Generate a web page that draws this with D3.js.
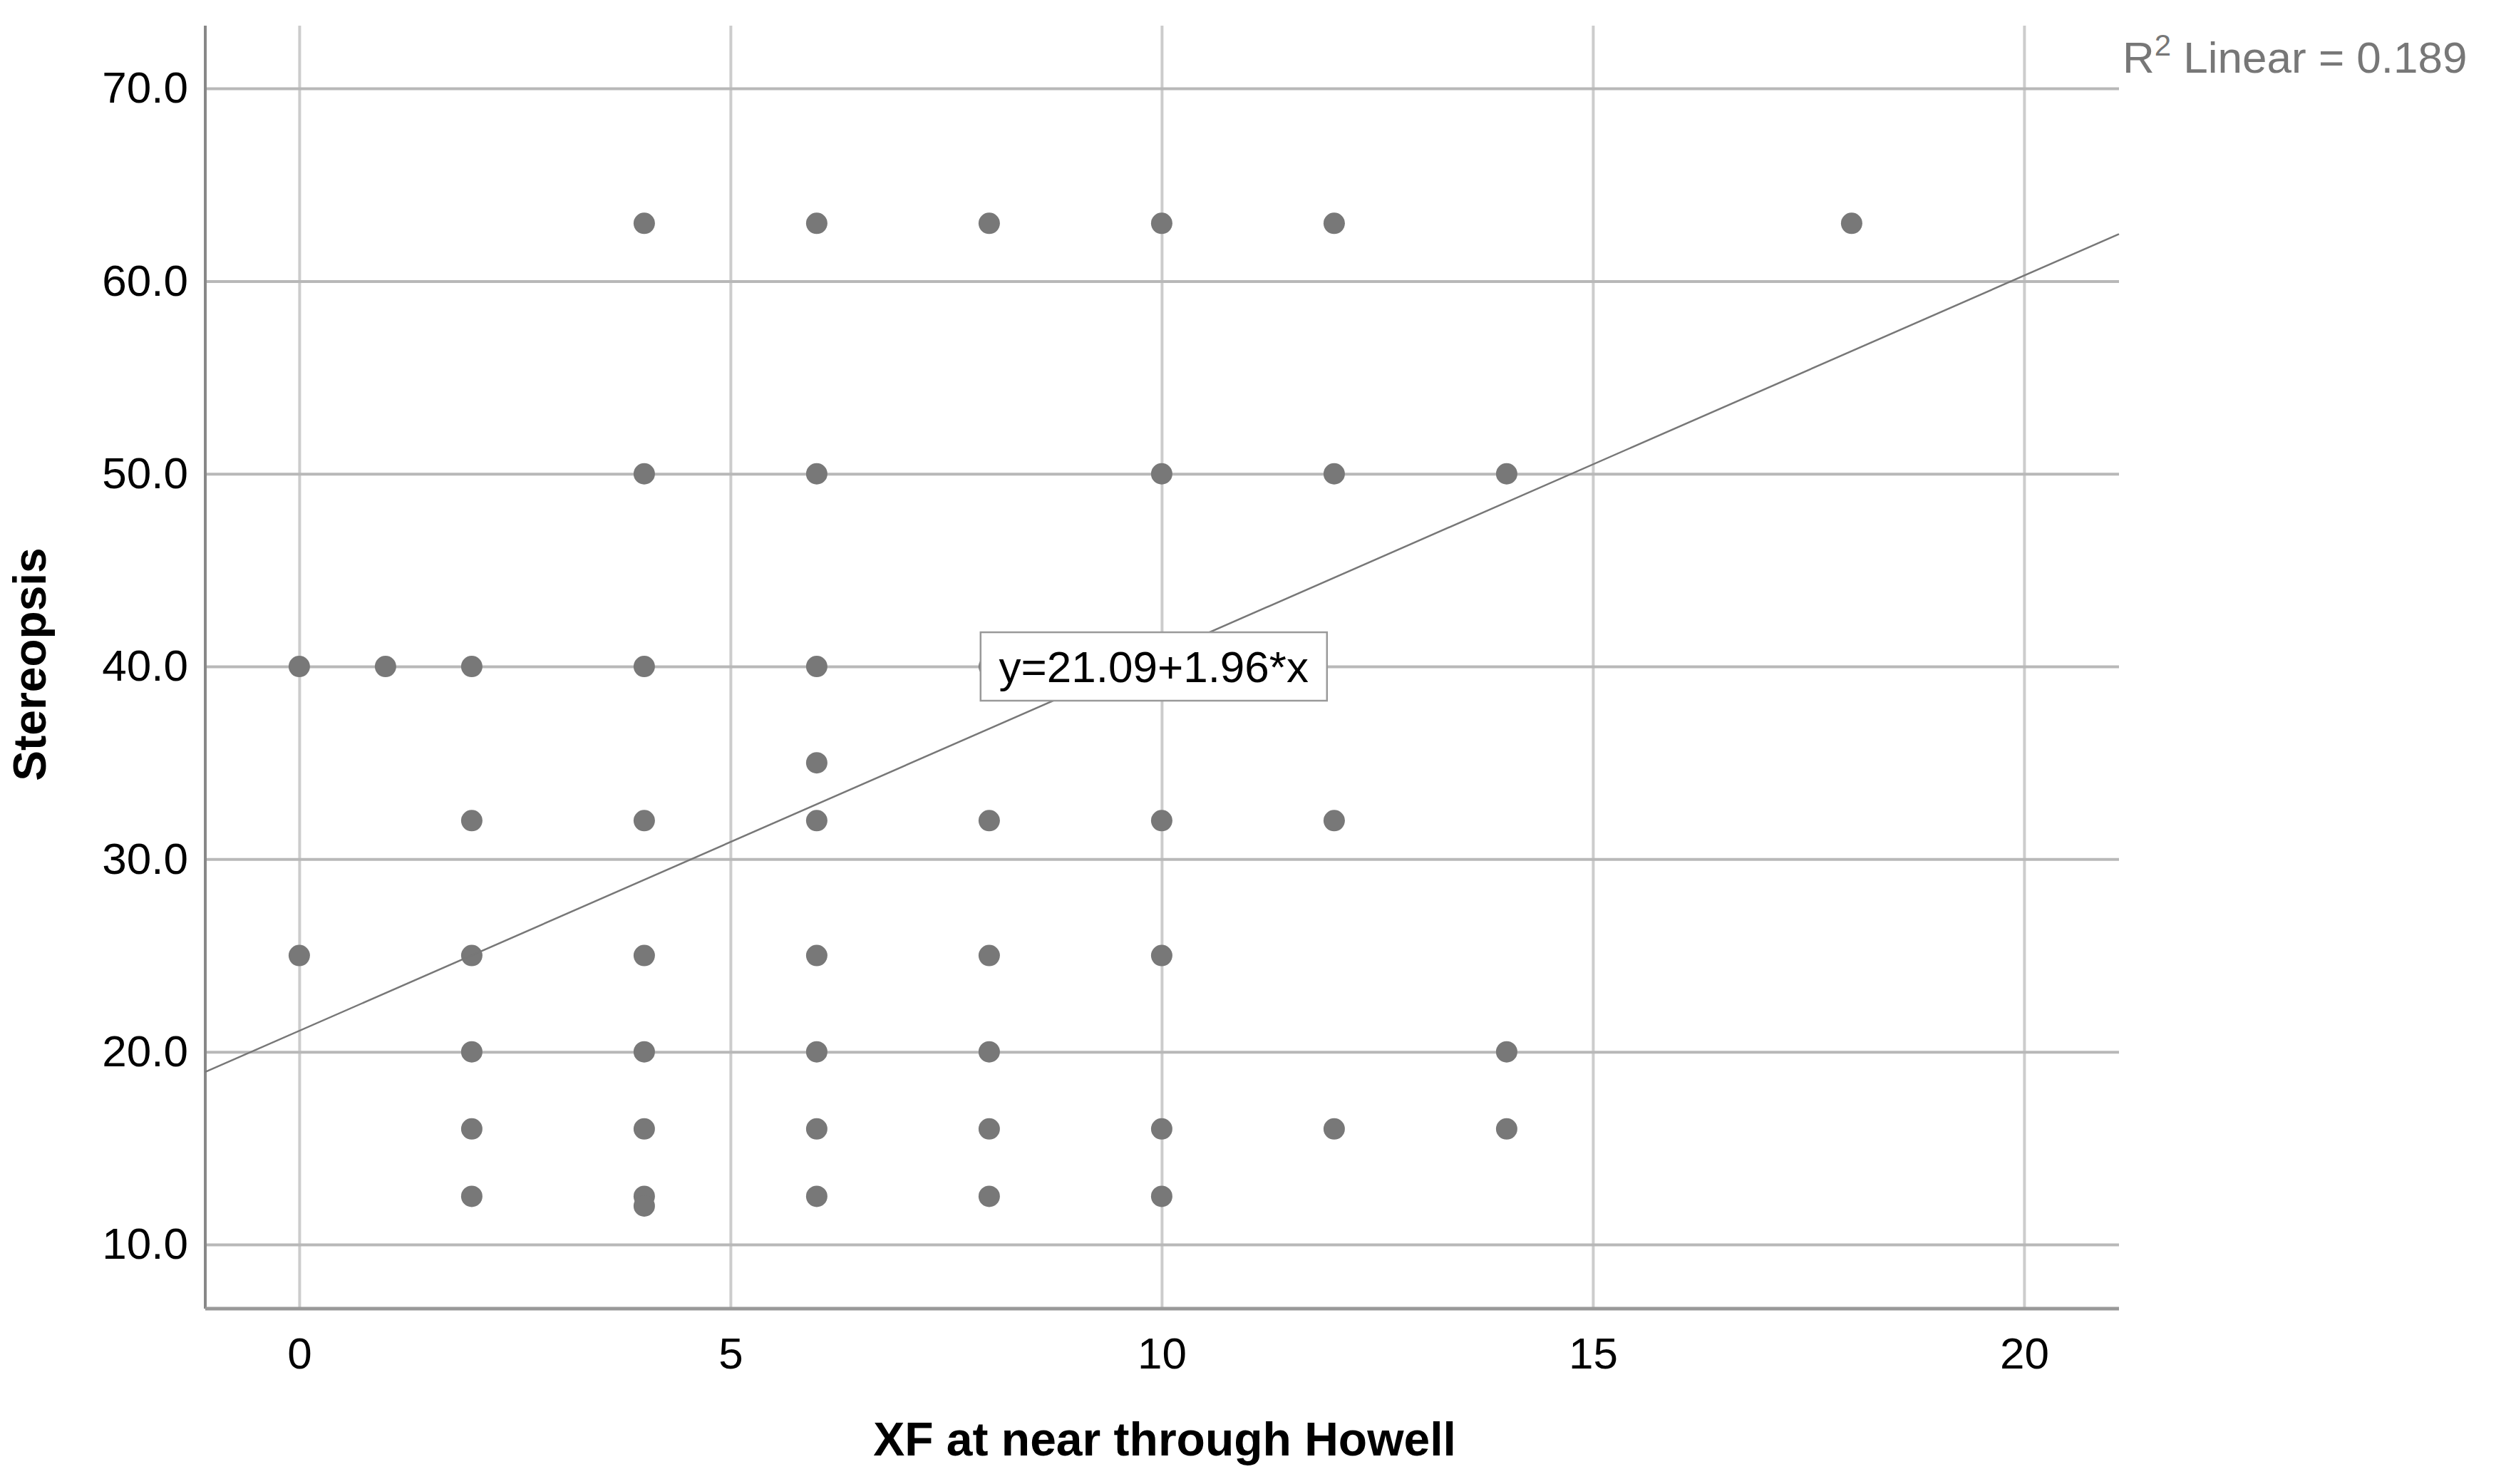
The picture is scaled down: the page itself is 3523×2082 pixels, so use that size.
<!DOCTYPE html>
<html>
<head>
<meta charset="utf-8">
<script src="https://cdn.jsdelivr.net/npm/d3@7"></script>
<style>
  body { margin: 0; background: #fff; }
  text { font-family: "Liberation Sans", Arial, sans-serif; }
  .narrow { font-family: "Liberation Sans Narrow", "Liberation Sans", Arial, sans-serif; }
</style>
</head>
<body>
<div id="chart"></div>
<script>
// XF at near (Howell) vs stereopsis
const xfValues = [4, 6, 8, 10, 12, 18,
  4, 6, 10, 12, 14,
  0, 1, 2, 4, 6, 8,
  6,
  2, 4, 6, 8, 10, 12,
  0, 2, 4, 6, 8, 10,
  2, 4, 6, 8, 14,
  2, 4, 6, 8, 10, 12, 14,
  2, 4, 6, 8, 10, 4]
const stereoValues = [63, 63, 63, 63, 63, 63,
  50, 50, 50, 50, 50,
  40, 40, 40, 40, 40, 40,
  35,
  32, 32, 32, 32, 32, 32,
  25, 25, 25, 25, 25, 25,
  20, 20, 20, 20, 20,
  16, 16, 16, 16, 16, 16, 16,
  12.5, 12.5, 12.5, 12.5, 12.5, 12]
const xTicks = [0, 5, 10, 15, 20]
const yTicks = [10, 20, 30, 40, 50, 60, 70]
const fitIntercept = 21.09
const fitSlope = 1.96
const rSquared = 0.189

const data = xfValues.map((x, i) => ({ x: x, y: stereoValues[i] }))

let W = 3523, H = 2082
let margin = { top: 36, left: 288, right: 550, bottom: 246 },
  width = W - margin.left - margin.right,
  height = H - margin.top - margin.bottom

let xScale = d3.scaleLinear().domain([-1.09, 21.1]).range([0, width])
let yScale = d3.scaleLinear().domain([6.67, 73.26]).range([height, 0])

let svg = d3.select('#chart').append('svg')
    .attr('width', W).attr('height', H)
let g = svg.append('g')
    .attr('transform', 'translate(' + margin.left + ',' + margin.top + ')')

// vertical grid
g.append('g')
    .call(d3.axisBottom(xScale).tickValues(xTicks).tickSize(height).tickFormat(''))
    .call(a => a.select('.domain').remove())
    .selectAll('line').attr('stroke', '#cccccc').attr('stroke-width', 4)

// horizontal grid
g.append('g')
    .call(d3.axisLeft(yScale).tickValues(yTicks).tickSize(-width).tickFormat(''))
    .call(a => a.select('.domain').remove())
    .selectAll('line').attr('stroke', '#b8b8b8').attr('stroke-width', 4)

// axis lines
g.append('line').attr('x1', 0).attr('x2', 0).attr('y1', 0).attr('y2', height)
    .attr('stroke', '#888').attr('stroke-width', 4)
g.append('line').attr('x1', 0).attr('x2', width).attr('y1', height).attr('y2', height)
    .attr('stroke', '#999').attr('stroke-width', 5)

// tick labels
g.append('g')
    .attr('transform', 'translate(0,' + height + ')')
    .call(d3.axisBottom(xScale).tickValues(xTicks).tickSize(0).tickPadding(40))
    .call(a => a.select('.domain').remove())
    .selectAll('text').attr('font-size', 62).attr('fill', '#000')
    .attr('class', 'narrow')
    .style('font-family', '"Liberation Sans Narrow", "Liberation Sans", Arial, sans-serif')

g.append('g')
    .call(d3.axisLeft(yScale).tickValues(yTicks).tickSize(0).tickPadding(24).tickFormat(d3.format('.1f')))
    .call(a => a.select('.domain').remove())
    .selectAll('text').attr('font-size', 62).attr('fill', '#000')
    .style('font-family', '"Liberation Sans Narrow", "Liberation Sans", Arial, sans-serif')

// axis titles
svg.append('text')
    .attr('x', 1634).attr('y', 2042)
    .attr('text-anchor', 'middle').attr('font-size', 66).attr('font-weight', 'bold')
    .text('XF at near through Howell')
svg.append('text')
    .attr('transform', 'translate(64,' + 932 + ') rotate(-90)')
    .attr('text-anchor', 'middle').attr('font-size', 64).attr('font-weight', 'bold')
    .text('Stereopsis')

// points
g.selectAll('circle').data(data)
  .enter().append('circle')
    .attr('cx', d => xScale(d.x))
    .attr('cy', d => yScale(d.y))
    .attr('r', 15)
    .attr('fill', '#787878')

// fit line
let xd = xScale.domain()
g.append('line')
    .attr('x1', xScale(xd[0])).attr('y1', yScale(fitIntercept + fitSlope * xd[0]))
    .attr('x2', xScale(xd[1])).attr('y2', yScale(fitIntercept + fitSlope * xd[1]))
    .attr('stroke', '#777').attr('stroke-width', 2.5)

// equation label
let lx = xScale(7.9), ly = yScale(40)
g.append('rect').attr('x', lx).attr('y', ly - 48).attr('width', 486).attr('height', 96)
    .attr('fill', '#fff').attr('stroke', '#999').attr('stroke-width', 2.5)
g.append('text').attr('x', lx + 243).attr('y', ly + 22).attr('text-anchor', 'middle')
    .attr('font-size', 62).attr('fill', '#000')
    .style('font-family', '"Liberation Sans Narrow", "Liberation Sans", Arial, sans-serif')
    .text('y=' + fitIntercept + '+' + fitSlope + '*x')

// R squared
let r2 = svg.append('text').attr('x', 2978).attr('y', 102)
    .attr('font-size', 62).attr('fill', '#777')
    .style('font-family', '"Liberation Sans Narrow", "Liberation Sans", Arial, sans-serif')
r2.append('tspan').text('R')
r2.append('tspan').attr('dy', -24).attr('font-size', 42).text('2')
r2.append('tspan').attr('dy', 24).text(' Linear = ' + rSquared)
</script>
</body>
</html>
